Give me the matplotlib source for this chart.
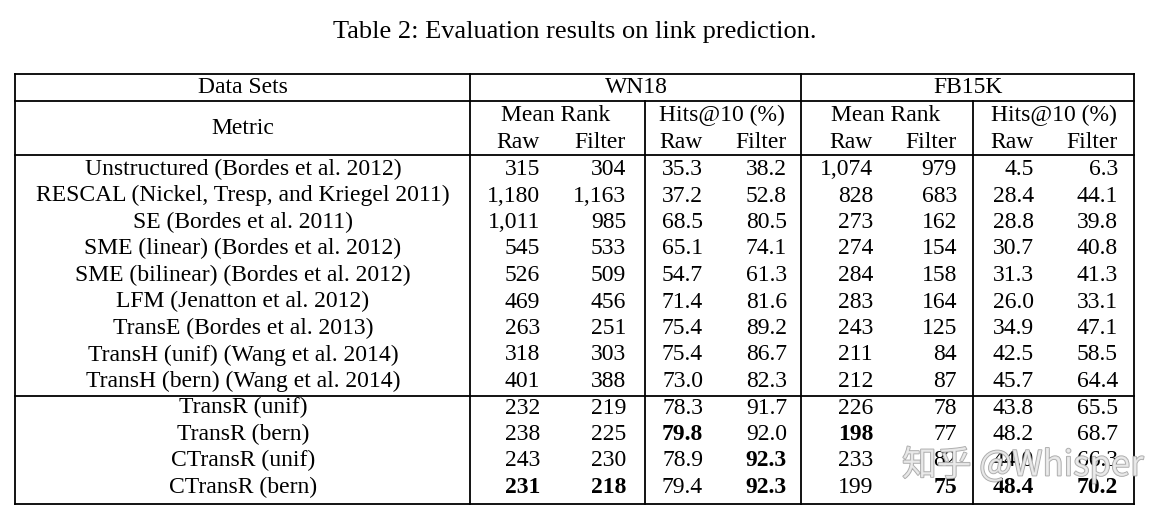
import matplotlib.pyplot as plt
import matplotlib.patheffects as pe

methods = ["Unstructured (Bordes et al. 2012)",
           "RESCAL (Nickel, Tresp, and Kriegel 2011)",
           "SE (Bordes et al. 2011)",
           "SME (linear) (Bordes et al. 2012)",
           "SME (bilinear) (Bordes et al. 2012)",
           "LFM (Jenatton et al. 2012)",
           "TransE (Bordes et al. 2013)",
           "TransH (unif) (Wang et al. 2014)",
           "TransH (bern) (Wang et al. 2014)",
           "TransR (unif)",
           "TransR (bern)",
           "CTransR (unif)",
           "CTransR (bern)"]
wn_mr_raw = [315, 1180, 1011, 545, 526, 469, 263, 318, 401, 232, 238, 243, 231]
wn_mr_filt = [304, 1163, 985, 533, 509, 456, 251, 303, 388, 219, 225, 230, 218]
wn_hit_raw = [35.3, 37.2, 68.5, 65.1, 54.7, 71.4, 75.4, 75.4, 73.0, 78.3, 79.8, 78.9, 79.4]
wn_hit_filt = [38.2, 52.8, 80.5, 74.1, 61.3, 81.6, 89.2, 86.7, 82.3, 91.7, 92.0, 92.3, 92.3]
fb_mr_raw = [1074, 828, 273, 274, 284, 283, 243, 211, 212, 226, 198, 233, 199]
fb_mr_filt = [979, 683, 162, 154, 158, 164, 125, 84, 87, 78, 77, 82, 75]
fb_hit_raw = [4.5, 28.4, 28.8, 30.7, 31.3, 26.0, 34.9, 42.5, 45.7, 43.8, 48.2, 44.0, 48.4]
fb_hit_filt = [6.3, 44.1, 39.8, 40.8, 41.3, 33.1, 47.1, 58.5, 64.4, 65.5, 68.7, 66.3, 70.2]

W, H = 1175, 519
fig = plt.figure(figsize=(W / 100, H / 100), dpi=100)
ax = fig.add_axes([0, 0, 1, 1])
ax.set_xlim(0, W)
ax.set_ylim(H, 0)
ax.axis("off")

font = "Liberation Serif"
fs = 17
lw = 1.3

ax.text(575, 38, "Table 2: Evaluation results on link prediction.", ha="center", va="baseline",
        family=font, fontsize=19)

# frame
left, right = 15, 1134
top, y1, y2, ysep, bottom = 74, 101, 155, 396, 504
for y in (top, y1, y2, ysep, bottom):
    ax.plot([left, right], [y, y], color="black", lw=lw)
for x in (left, 470, 801, right):
    ax.plot([x, x], [top, bottom], color="black", lw=lw)
for x in (645, 973):
    ax.plot([x, x], [y1, bottom], color="black", lw=lw)

# header
ax.text(243, 93, "Data Sets", ha="center", va="baseline", family=font, fontsize=fs)
ax.text(243, 134, "Metric", ha="center", va="baseline", family=font, fontsize=fs)
ax.text(636, 93, "WN18", ha="center", va="baseline", family=font, fontsize=fs)
ax.text(968, 93, "FB15K", ha="center", va="baseline", family=font, fontsize=fs)
sub = [(556, "Mean Rank"), (722, "Hits@10 (%)"), (886, "Mean Rank"), (1054, "Hits@10 (%)")]
for cx, s in sub:
    ax.text(cx, 121, s, ha="center", va="baseline", family=font, fontsize=fs)

cols = [wn_mr_raw, wn_mr_filt, wn_hit_raw, wn_hit_filt, fb_mr_raw, fb_mr_filt, fb_hit_raw, fb_hit_filt]
col_right = [540, 626, 703, 787, 873, 957, 1034, 1118]
is_rank = [True, True, False, False, True, True, False, False]
for k, xr in enumerate(col_right):
    ax.text(xr, 148, "Raw" if k % 2 == 0 else "Filter", ha="right", va="baseline",
            family=font, fontsize=fs)

row_y0, row_dy = 175, 26.5
for i, m in enumerate(methods):
    y = row_y0 + i * row_dy
    ax.text(243, y, m, ha="center", va="baseline", family=font, fontsize=fs)
    for vals, xr, rank in zip(cols, col_right, is_rank):
        v = vals[i]
        best = min(vals) if rank else max(vals)
        s = f"{v:,}" if rank else f"{v:.1f}"
        ax.text(xr, y, s, ha="right", va="baseline", family=font, fontsize=fs,
                fontweight="bold" if v == best else "normal")

# watermark
ax.text(1023, 465, "知乎 @Whisper", ha="center", va="center",
        family=["Noto Sans CJK SC", "DejaVu Sans"], fontsize=25, color="#ececec", alpha=0.85,
        path_effects=[pe.withStroke(linewidth=1.2, foreground="#9a9a9a")])

fig.savefig("out.png", dpi=100)
